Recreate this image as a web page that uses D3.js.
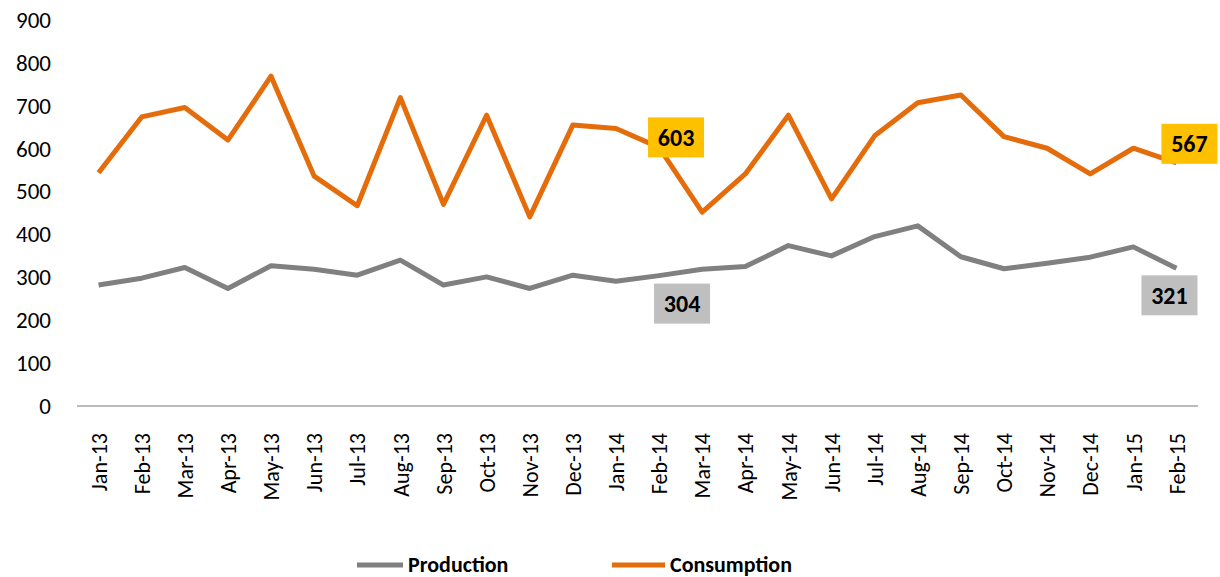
<!DOCTYPE html>
<html>
<head>
<meta charset="utf-8">
<script src="https://cdn.jsdelivr.net/npm/d3@7"></script>
<style>
  body { margin: 0; background: #fff; }
  text { font-family: Carlito, Calibri, Lato, "Open Sans", sans-serif; }
</style>
</head>
<body>
<div id="chart"></div>
<script>
// data
const months = ['Jan-13','Feb-13','Mar-13','Apr-13','May-13','Jun-13','Jul-13','Aug-13','Sep-13','Oct-13','Nov-13','Dec-13',
  'Jan-14','Feb-14','Mar-14','Apr-14','May-14','Jun-14','Jul-14','Aug-14','Sep-14','Oct-14','Nov-14','Dec-14','Jan-15','Feb-15'];
const production = [282, 298, 323, 274, 327, 319, 305, 340, 282, 301, 274, 305,
  291, 304, 319, 325, 374, 350, 395, 420, 348, 320, 333, 347, 371, 321];
const consumption = [544, 674, 696, 620, 769, 536, 467, 719, 470, 678, 441, 655,
  647, 603, 452, 541, 678, 483, 630, 707, 725, 628, 601, 541, 601, 567];
const yTicks = [0, 100, 200, 300, 400, 500, 600, 700, 800, 900];

const width = 1220;
const height = 577;

const series = [
  {name: 'Production', values: production, color: '#808080', labelFill: '#BFBFBF'},
  {name: 'Consumption', values: consumption, color: '#E46C0A', labelFill: '#FFC000'}
];

// which points get a value box, and where the box sits relative to the point
const callouts = [
  {series: 1, month: 'Feb-14', dx: 17, dy: -10},
  {series: 1, month: 'Feb-15', dx: 13, dy: -19},
  {series: 0, month: 'Feb-14', dx: 23, dy: 28},
  {series: 0, month: 'Feb-15', dx: -7, dy: 27}
];

const svg = d3.select('#chart').append('svg')
  .attr('width', width)
  .attr('height', height);

const x = d3.scalePoint()
  .domain(months)
  .range([77, 1198])
  .padding(0.5);

const y = d3.scaleLinear()
  .domain([0, 900])
  .range([406, 20]);

// y axis: labels only
svg.append('g')
  .attr('transform', 'translate(51,0)')
  .call(d3.axisLeft(y).tickValues(yTicks).tickSize(0).tickPadding(0))
  .call(g => g.select('.domain').remove())
  .selectAll('text')
  .style('font-size', '23px')
  .style('fill', '#000');

// x axis
let xAxis = svg.append('g')
  .attr('transform', `translate(0, ${y(0)})`)
  .call(d3.axisBottom(x).tickSize(0));
xAxis.select('.domain')
  .attr('stroke', '#A6A6A6')
  .attr('stroke-width', 1.5)
  .attr('d', 'M77,0H1198');
xAxis.selectAll('text')
  .attr('transform', 'rotate(-90)')
  .attr('x', -27)
  .attr('y', 0)
  .attr('dy', '0.35em')
  .style('text-anchor', 'end')
  .style('font-size', '22px')
  .style('fill', '#000');

const line = d3.line()
  .x((d, i) => x(months[i]))
  .y(d => y(d));

series.forEach(s => {
  svg.append('path')
    .datum(s.values)
    .attr('fill', 'none')
    .attr('stroke', s.color)
    .attr('stroke-width', 5)
    .attr('stroke-linejoin', 'round')
    .attr('d', line);
});

// value boxes
callouts.forEach(c => {
  const s = series[c.series];
  const i = months.indexOf(c.month);
  const cx = x(c.month) + c.dx;
  const cy = y(s.values[i]) + c.dy;
  svg.append('rect')
    .attr('x', cx - 28)
    .attr('y', cy - 20)
    .attr('width', 56)
    .attr('height', 40)
    .attr('fill', s.labelFill);
  svg.append('text')
    .attr('x', cx)
    .attr('y', cy)
    .attr('dy', '0.36em')
    .style('text-anchor', 'middle')
    .style('font-size', '24px')
    .style('font-weight', 'bold')
    .text(s.values[i]);
});

// legend
const legendPos = [{x: 357, tx: 408}, {x: 612, tx: 670}];
series.forEach((s, i) => {
  svg.append('line')
    .attr('x1', legendPos[i].x)
    .attr('x2', legendPos[i].tx - 5)
    .attr('y1', 565)
    .attr('y2', 565)
    .attr('stroke', s.color)
    .attr('stroke-width', 5);
  svg.append('text')
    .attr('x', legendPos[i].tx)
    .attr('y', 572)
    .style('font-size', '22px')
    .style('font-weight', 'bold')
    .text(s.name);
});
</script>
</body>
</html>
